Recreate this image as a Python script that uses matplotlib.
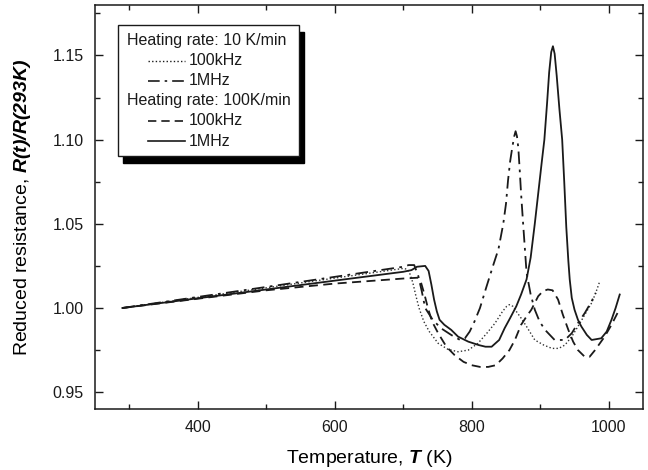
import matplotlib
matplotlib.use("Agg")
import matplotlib.pyplot as plt
from matplotlib.lines import Line2D
from matplotlib.patches import Rectangle

# ---- data ----------------------------------------------------------------------------

# 10 K/min, 100 kHz (dotted)
T_10_100k = [290, 500, 700, 706, 710, 714, 718, 723, 730, 738, 751, 765, 780, 795, 809,
             822, 834, 845, 851, 855, 860, 865, 872, 880, 892, 905, 917, 927, 936, 946,
             955, 965, 975, 981, 987]
R_10_100k = [1.000, 1.012, 1.0235, 1.023, 1.020, 1.015, 1.008, 1.000, 0.992, 0.986, 0.979,
             0.9755, 0.974, 0.975, 0.979, 0.985, 0.991, 0.998, 1.001, 1.002, 1.001, 0.998,
             0.994, 0.989, 0.981, 0.978, 0.976, 0.976, 0.978, 0.983, 0.989, 0.996, 1.003,
             1.009, 1.016]

# 10 K/min, 1 MHz (dash-dot)
T_10_1m = [290, 500, 700, 708, 716, 722, 727, 732, 743, 755, 770, 783, 790, 797, 804, 812,
           821, 831, 839, 846, 850, 853, 856, 859, 862, 864, 866, 868, 870, 872, 875, 880,
           886, 892, 899, 907, 921, 936, 946, 955, 965, 975, 981]
R_10_1m = [1.000, 1.0125, 1.0245, 1.0255, 1.0255, 1.019, 1.010, 1.000, 0.993, 0.988, 0.984,
           0.981, 0.982, 0.986, 0.992, 1.000, 1.012, 1.025, 1.035, 1.050, 1.062, 1.076,
           1.087, 1.095, 1.102, 1.105, 1.102, 1.095, 1.082, 1.068, 1.050, 1.021, 1.008,
           0.999, 0.992, 0.987, 0.981, 0.981, 0.985, 0.991, 0.997, 1.004, 1.009]

# 100 K/min, 100 kHz (dashed)
T_100_100k = [290, 500, 600, 700, 722, 726, 731, 736, 742, 751, 763, 775, 788, 800, 812,
              824, 835, 845, 855, 863, 872, 880, 887, 897, 904, 911, 918, 926, 933, 941,
              948, 955, 965, 972, 980, 994, 1004, 1014]
R_100_100k = [1.000, 1.0105, 1.0145, 1.0175, 1.018, 1.015, 1.008, 1.000, 0.992, 0.985,
              0.977, 0.972, 0.968, 0.966, 0.965, 0.965, 0.966, 0.970, 0.975, 0.981, 0.990,
              0.995, 0.999, 1.007, 1.010, 1.011, 1.0105, 1.005, 0.996, 0.987, 0.980, 0.975,
              0.971, 0.971, 0.975, 0.983, 0.990, 0.998]

# 100 K/min, 1 MHz (solid)
T_100_1m = [290, 500, 700, 712, 720, 732, 737, 741, 745, 749, 753, 760, 770, 780, 795,
            810, 820, 829, 840, 848, 856, 865, 872, 880, 886, 892, 897, 902, 906, 910,
            913, 916, 918.5, 921, 924, 928, 932, 935, 938, 941, 943, 946, 950, 955, 960,
            968, 975, 989, 997, 1004, 1010, 1016]
R_100_1m = [1.000, 1.011, 1.0215, 1.0225, 1.0245, 1.025, 1.022, 1.014, 1.005, 0.998, 0.993,
            0.990, 0.987, 0.983, 0.980, 0.978, 0.977, 0.977, 0.981, 0.988, 0.994, 1.001,
            1.008, 1.017, 1.030, 1.050, 1.068, 1.086, 1.100, 1.122, 1.140, 1.152, 1.1555,
            1.151, 1.138, 1.118, 1.100, 1.075, 1.048, 1.028, 1.017, 1.006, 0.999, 0.993,
            0.989, 0.984, 0.981, 0.982, 0.986, 0.993, 1.000, 1.008]

X_MAJOR = [400, 600, 800, 1000]
X_MINOR = [300, 500, 700, 900]
Y_MAJOR = [0.95, 1.00, 1.05, 1.10, 1.15]
Y_MINOR = [0.975, 1.025, 1.075, 1.125, 1.175]

INK = "#1a1a1a"

# ---- style ---------------------------------------------------------------------------

plt.rcParams.update({
    "font.family": "Liberation Sans",
    "font.size": 11,
    "mathtext.fontset": "custom",
    "mathtext.bf": "Liberation Sans:bold:italic",
    "mathtext.rm": "Liberation Sans",
    "axes.linewidth": 1.1,
    "axes.edgecolor": INK,
    "xtick.color": INK,
    "ytick.color": INK,
    "text.color": INK,
})

fig = plt.figure(figsize=(6.48, 4.70), dpi=100)
ax = fig.add_axes([0.1466, 0.1298, 0.8457, 0.8596])

DOT = (0, (1, 1.6))
DASHDOT = (0, (7, 3, 1.5, 3))
DASH = (0, (5, 3))

ax.plot(T_10_100k, R_10_100k, color="#333333", lw=1.0, ls=DOT)
ax.plot(T_10_1m, R_10_1m, color=INK, lw=1.3, ls=DASHDOT)
ax.plot(T_100_100k, R_100_100k, color=INK, lw=1.3, ls=DASH)
ax.plot(T_100_1m, R_100_1m, color=INK, lw=1.3, ls="-")

ax.set_xlim(250, 1050)
ax.set_ylim(0.94, 1.18)
ax.set_xticks(X_MAJOR)
ax.set_xticks(X_MINOR, minor=True)
ax.set_yticks(Y_MAJOR)
ax.set_yticks(Y_MINOR, minor=True)
ax.set_yticklabels([f"{v:.2f}" for v in Y_MAJOR])
ax.tick_params(which="both", direction="in", top=True, right=True, width=1.0)
ax.tick_params(which="major", length=6, pad=8, labelsize=11.5)
ax.tick_params(which="minor", length=3.5)

ax.set_xlabel(r"Temperature, $\mathbf{T}$ (K)", fontsize=14, labelpad=9)
ax.set_ylabel(r"Reduced resistance, $\mathbf{R(t)/R(293K)}$", fontsize=14, labelpad=14)

# ---- framed legend with drop shadow ---------------------------------------------------

bx0, by0, bw, bh = 0.042, 0.626, 0.330, 0.324
ax.add_patch(Rectangle((bx0 + 0.010, by0 - 0.018), bw, bh, transform=ax.transAxes,
                       facecolor="black", edgecolor="black", zorder=5))
ax.add_patch(Rectangle((bx0, by0), bw, bh, transform=ax.transAxes,
                       facecolor="white", edgecolor=INK, lw=1.0, zorder=6))

rows = [
    ("Heating rate: 10 K/min", None, None),
    ("100kHz", DOT, 1.0),
    ("1MHz", DASHDOT, 1.2),
    ("Heating rate: 100K/min", None, None),
    ("100kHz", DASH, 1.2),
    ("1MHz", "-", 1.2),
]
row_y = [0.912, 0.862, 0.813, 0.763, 0.714, 0.663]
for (label, ls, lw), y in zip(rows, row_y):
    if ls is None:
        ax.text(0.058, y, label, transform=ax.transAxes, fontsize=11.5, va="center", zorder=7)
    else:
        ax.add_line(Line2D([0.097, 0.164], [y, y], transform=ax.transAxes, color=INK,
                           ls=ls, lw=lw, zorder=7))
        ax.text(0.1715, y, label, transform=ax.transAxes, fontsize=11.5, va="center", zorder=7)

fig.savefig("out.png", dpi=100)
